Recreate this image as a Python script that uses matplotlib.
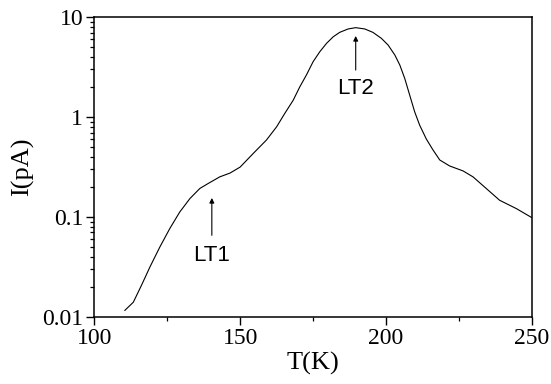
import numpy as np
import matplotlib.pyplot as plt
from matplotlib.ticker import FixedLocator, FixedFormatter, LogLocator, NullFormatter

# curve (T in K, I in pA)
temp = [110.5, 113.4, 116.2, 119.1, 122.5, 125.9, 129.3, 132.8, 136.2, 139.0,
        143.0, 146.5, 150.0, 154.5, 159.0, 162.5, 165.3, 168.2, 170.4, 172.7,
        175.0, 177.3, 179.6, 181.9, 184.1, 187.0, 189.6, 192.7, 195.5, 198.4,
        200.7, 203.0, 204.7, 206.4, 208.1, 209.8, 211.5, 213.8, 216.1, 218.4,
        221.8, 226.4, 229.8, 234.4, 238.9, 244.7, 249.8]
current = [0.0116, 0.0140, 0.0207, 0.0316, 0.0501, 0.0766, 0.112, 0.153, 0.193, 0.216,
           0.252, 0.275, 0.316, 0.433, 0.589, 0.80, 1.09, 1.48, 2.00, 2.64,
           3.59, 4.52, 5.48, 6.38, 7.06, 7.64, 7.87, 7.64, 7.06, 6.15,
           5.27, 4.19, 3.33, 2.44, 1.66, 1.13, 0.832, 0.603, 0.468, 0.372,
           0.324, 0.289, 0.252, 0.192, 0.147, 0.121, 0.099]

x_ticks = [100, 150, 200, 250]
x_minor = [125, 175, 225]
y_ticks = [0.01, 0.1, 1, 10]
y_labels = ['0.01', '0.1', '1', '10']

# peak markers: label, T, arrow tip, arrow tail, text position
peaks = [('LT1', 140.3, 0.155, 0.0655, 0.041),
         ('LT2', 189.6, 6.5, 2.96, 1.94)]

fig = plt.figure(figsize=(5.51, 3.84), dpi=100)
ax = fig.add_axes([0.171, 0.175, 0.7945, 0.78])

ax.plot(temp, current, color='black', lw=0.8)
ax.set_yscale('log')
ax.set_xlim(100, 250)
ax.set_ylim(0.01, 10)

ax.xaxis.set_major_locator(FixedLocator(x_ticks))
ax.xaxis.set_minor_locator(FixedLocator(x_minor))
ax.yaxis.set_major_locator(FixedLocator(y_ticks))
ax.yaxis.set_major_formatter(FixedFormatter(y_labels))
ax.yaxis.set_minor_locator(LogLocator(base=10, subs=np.arange(2, 10)))
ax.yaxis.set_minor_formatter(NullFormatter())

serif = 'Liberation Serif'
for lab in ax.get_xticklabels() + ax.get_yticklabels():
    lab.set_fontfamily(serif)
    lab.set_fontsize(17)
ax.tick_params(which='major', direction='out', length=6, width=1, pad=2)
ax.tick_params(which='minor', direction='out', length=3, width=0.9)
for s in ax.spines.values():
    s.set_linewidth(1.1)

ax.set_xlabel('T(K)', fontfamily=serif, fontsize=19, labelpad=2)
ax.set_ylabel('I(pA)', fontfamily=serif, fontsize=19, labelpad=6)

for name, t, tip, tail, ty in peaks:
    ax.annotate('', xy=(t, tip), xytext=(t, tail),
                arrowprops=dict(arrowstyle='-|>', color='black', lw=0.8,
                                mutation_scale=7, shrinkA=0, shrinkB=0))
    ax.text(t, ty, name, ha='center', va='center', fontsize=16,
            fontfamily='Liberation Sans')

fig.savefig('out.png', dpi=100)
